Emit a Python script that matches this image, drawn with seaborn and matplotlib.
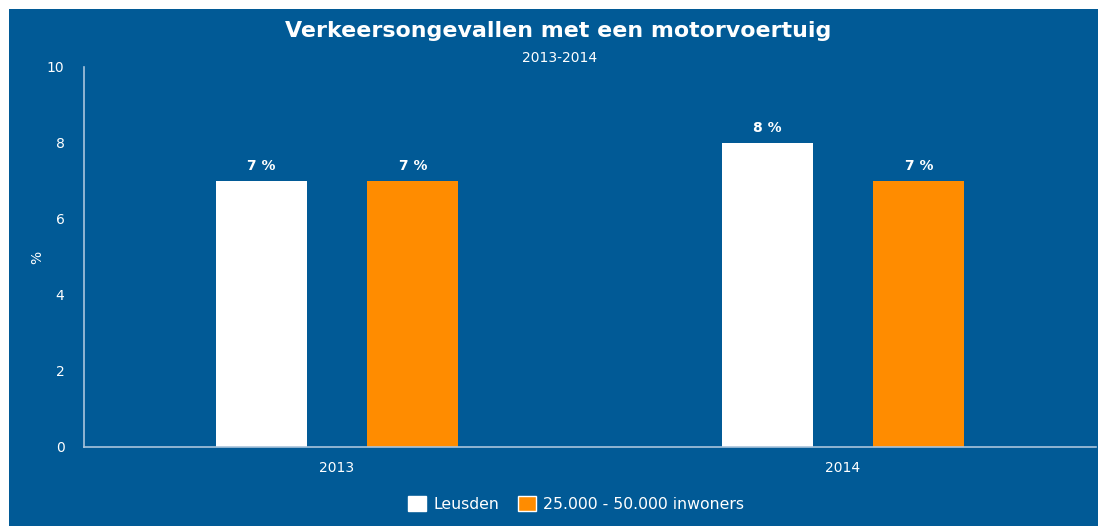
import pandas as pd
import seaborn as sns
import matplotlib.pyplot as plt
from matplotlib.patches import Rectangle

# data
years = ['2013', '2014']
leusden = [7, 8]
reference = [7, 7]
series_names = ['Leusden', '25.000 - 50.000 inwoners']

df = pd.DataFrame({
    'jaar': years * 2,
    'waarde': leusden + reference,
    'groep': [series_names[0]] * 2 + [series_names[1]] * 2,
})

bg = '#015a96'
axis_col = '#a9c4dc'
orange = '#ff8c00'
sns.set_theme(style='white')
plt.rcParams['font.family'] = ['DejaVu Sans']

fig = plt.figure(figsize=(10.98, 5.26), dpi=100, facecolor='white')
fig.patches.append(Rectangle((9 / 1098, 0), 1, 1 - 9 / 526, transform=fig.transFigure,
                             facecolor=bg, edgecolor='none', zorder=-1))
ax = fig.add_axes([84 / 1098, 1 - 447 / 526, 1012 / 1098, 380 / 526])
ax.set_facecolor(bg)

sns.barplot(data=df, x='jaar', y='waarde', hue='groep', ax=ax,
            palette=['white', orange], saturation=1, width=0.6, gap=0.4,
            linewidth=0, legend=False)

for c in ax.containers:
    ax.bar_label(c, fmt='{:.0f} %', padding=6, color='white', fontsize=10, fontweight='bold')

ax.set_ylim(0, 10)
ax.set_xlim(-0.5, 1.5)
ax.set_yticks([0, 2, 4, 6, 8, 10])
ax.tick_params(colors='white', labelsize=10, length=0, pad=14)
ax.tick_params(axis='x', pad=10)
for s in ['top', 'right']:
    ax.spines[s].set_visible(False)
for s in ['left', 'bottom']:
    ax.spines[s].set_color(axis_col)
    ax.spines[s].set_linewidth(1.2)
ax.set_xlabel('')
ax.set_ylabel('%', color='white', fontsize=10, labelpad=2)

fig.text(0.508, 1 - 31 / 526, 'Verkeersongevallen met een motorvoertuig', ha='center', va='center',
         color='white', fontsize=15.9, fontweight='bold')
fig.text(0.51, 1 - 58 / 526, '2013-2014', ha='center', va='center', color='white', fontsize=10)

handles = [Rectangle((0, 0), 1, 1, facecolor='white'), Rectangle((0, 0), 1, 1, facecolor=orange)]
fig.legend(handles, series_names, loc='center', bbox_to_anchor=(0.525, 1 - 504 / 526), ncol=2,
           frameon=False, labelcolor='white', fontsize=11.3, handlelength=1.1, handleheight=1.1,
           columnspacing=1.2, handletextpad=0.5)

fig.savefig('out.png', dpi=100, facecolor='white')
